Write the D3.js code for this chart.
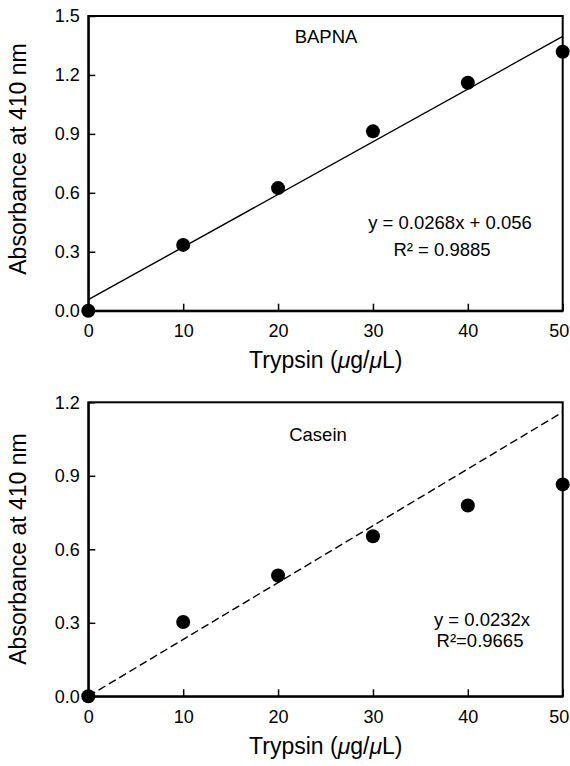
<!DOCTYPE html>
<html>
<head>
<meta charset="utf-8">
<script src="https://cdn.jsdelivr.net/npm/d3@7"></script>
<style>
  body { margin: 0; background: #fff; }
  svg { display: block; font-family: "Liberation Sans", Arial, sans-serif; }
</style>
</head>
<body>
<svg id="chart" width="570" height="766"></svg>
<script>
var W = 570, H = 766;

// data
var trypsin = [0, 10, 20, 30, 40, 50];
var bapna = [0, 0.335, 0.624, 0.913, 1.160, 1.318];
var casein = [0, 0.303, 0.493, 0.653, 0.779, 0.865];
var bapnaFit = [0.0268, 0.056];   // slope, intercept
var caseinFit = [0.0232, 0];
var xTicks = [0, 10, 20, 30, 40, 50];
var bapnaTicks = [0, 0.3, 0.6, 0.9, 1.2, 1.5];
var caseinTicks = [0, 0.3, 0.6, 0.9, 1.2];

var svg = d3.select("#chart");
var xLeft = 88.3, xRight = 562.7;

function drawPanel(opt) {
  var x = d3.scaleLinear().domain([0, 50]).range([xLeft, xRight]);
  var y = d3.scaleLinear().domain([0, opt.ymax]).range([opt.bottom, opt.top]);
  var g = svg.append("g");

  // frame
  g.append("rect")
    .attr("x", xLeft).attr("y", opt.top)
    .attr("width", xRight - xLeft).attr("height", opt.bottom - opt.top)
    .attr("fill", "none").attr("stroke", "#000").attr("stroke-width", 2);

  var xAxis = d3.axisBottom(x).tickValues(xTicks).tickFormat(d3.format("d"))
    .tickSizeInner(-7).tickSizeOuter(0).tickPadding(13.7);
  var yAxis = d3.axisLeft(y).tickValues(opt.yTicks).tickFormat(d3.format(".1f"))
    .tickSizeInner(-7).tickSizeOuter(0).tickPadding(8.5);

  var gx = g.append("g").attr("transform", "translate(0," + opt.bottom + ")").call(xAxis);
  var gy = g.append("g").attr("transform", "translate(" + xLeft + ",0)").call(yAxis);
  [gx, gy].forEach(function (a) {
    a.select(".domain").attr("stroke-width", 2);
    a.selectAll(".tick line").attr("stroke-width", 1.5);
    a.selectAll("text").attr("font-size", 18).attr("fill", "#000")
      .attr("font-family", "Liberation Sans, Arial, sans-serif");
  });
  // keep the last tick label inside the page edge
  gx.selectAll(".tick text").filter(function (d) { return d === 50; }).attr("dx", -4);

  // fit line
  var fit = d3.line().x(function (d) { return x(d); })
    .y(function (d) { return y(opt.fit[0] * d + opt.fit[1]); });
  g.append("path").datum([0, 50])
    .attr("d", fit)
    .attr("fill", "none").attr("stroke", "#000").attr("stroke-width", 1.4)
    .attr("stroke-dasharray", opt.dash ? "8,4" : null);

  // points
  g.selectAll("circle.pt").data(trypsin).join("circle")
    .attr("class", "pt")
    .attr("cx", function (d) { return x(d); })
    .attr("cy", function (d, i) { return y(opt.values[i]); })
    .attr("r", 7).attr("fill", "#000");

  // substrate label
  g.append("text").attr("x", opt.name[1]).attr("y", opt.name[2])
    .attr("text-anchor", "middle").attr("font-size", 18.5).text(opt.name[0]);

  // equation
  opt.eq.forEach(function (e) {
    g.append("text").attr("x", e[1]).attr("y", e[2])
      .attr("text-anchor", "middle").attr("font-size", 18.5).text(e[0]);
  });

  // axis titles
  g.append("text")
    .attr("x", 325.8).attr("y", opt.bottom + 57.6)
    .attr("text-anchor", "middle").attr("font-size", 23)
    .html("Trypsin (<tspan font-style='italic'>\u03bc</tspan>g/<tspan font-style='italic'>\u03bc</tspan>L)");

  g.append("text")
    .attr("transform", "translate(26," + opt.ylabY + ") rotate(-90)")
    .attr("text-anchor", "middle").attr("font-size", 23)
    .text("Absorbance at 410 nm");
}

drawPanel({
  top: 16, bottom: 310.7, ymax: 1.5, yTicks: bapnaTicks,
  values: bapna, fit: bapnaFit, dash: false,
  name: ["BAPNA", 326, 43],
  eq: [["y = 0.0268x + 0.056", 450, 229], ["R\u00b2 = 0.9885", 442, 256]],
  ylabY: 159
});

drawPanel({
  top: 402.3, bottom: 696.3, ymax: 1.2, yTicks: caseinTicks,
  values: casein, fit: caseinFit, dash: true,
  name: ["Casein", 318, 441],
  eq: [["y = 0.0232x", 482, 626], ["R\u00b2=0.9665", 480, 647]],
  ylabY: 549
});
</script>
</body>
</html>
